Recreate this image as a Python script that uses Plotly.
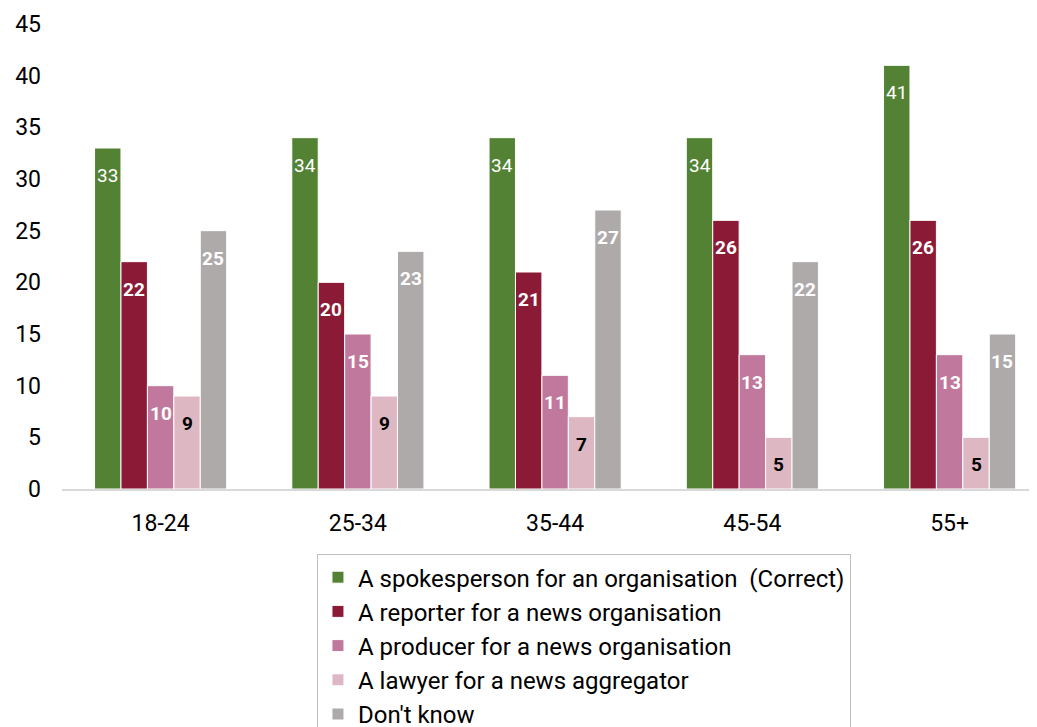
import plotly.graph_objects as go

categories = ["18-24", "25-34", "35-44", "45-54", "55+"]
series_names = [
    "A spokesperson for an organisation  (Correct)",
    "A reporter for a news organisation",
    "A producer for a news organisation",
    "A lawyer for a news aggregator",
    "Don't know",
]
spokesperson = [33, 34, 34, 34, 41]
reporter = [22, 20, 21, 26, 26]
producer = [10, 15, 11, 13, 13]
lawyer = [9, 9, 7, 5, 5]
dont_know = [25, 23, 27, 22, 15]
y_ticks = [0, 5, 10, 15, 20, 25, 30, 35, 40, 45]

series_values = [spokesperson, reporter, producer, lawyer, dont_know]
colors = ["#548235", "#8B1A36", "#C0789C", "#DDB8C2", "#AEAAAA"]
label_colors = ["white", "white", "white", "black", "white"]
label_bold = [False, True, True, True, True]

FONT = "Roboto"
bargap = 0.33
n = len(series_names)

fig = go.Figure()
for name, vals, col in zip(series_names, series_values, colors):
    fig.add_trace(go.Bar(
        name=name, x=categories, y=vals,
        marker=dict(color=col, line=dict(color="white", width=1)),
        hoverinfo="x+y+name",
    ))

bw = (1 - bargap) / n
annotations = []
for i, vals in enumerate(series_values):
    for k, v in enumerate(vals):
        txt = f"<b>{v}</b>" if label_bold[i] else str(v)
        annotations.append(dict(
            x=k + (i - (n - 1) / 2) * bw, y=v, xref="x", yref="y",
            text=txt, showarrow=False, yanchor="top", yshift=-14,
            font=dict(family=FONT, size=19, color=label_colors[i]),
        ))

fig.update_layout(
    width=1037, height=727,
    margin=dict(l=54, r=8, t=16, b=246, autoexpand=False),
    paper_bgcolor="white", plot_bgcolor="white",
    barmode="group", bargap=bargap, bargroupgap=0,
    font=dict(family=FONT, color="black"),
    showlegend=True,
    legend=dict(
        orientation="v", x=0.2615, xanchor="left", y=-0.140, yanchor="top",
        bordercolor="#BFBFBF", borderwidth=1,
        font=dict(family=FONT, size=24, color="black"),
        itemwidth=30, tracegroupgap=0,
    ),
    annotations=annotations,
)
fig.update_xaxes(
    range=[-0.5, 4.443], showline=True, linecolor="#D9D9D9", linewidth=2,
    showgrid=False, ticks="", tickfont=dict(family=FONT, size=23, color="black"),
    ticklabelstandoff=12,
)
fig.update_yaxes(
    range=[0, 45], tickvals=y_ticks, showgrid=False, zeroline=False,
    showline=False, tickfont=dict(family=FONT, size=23, color="black"),
    ticklabelstandoff=20,
)

fig.write_html("out.html")
